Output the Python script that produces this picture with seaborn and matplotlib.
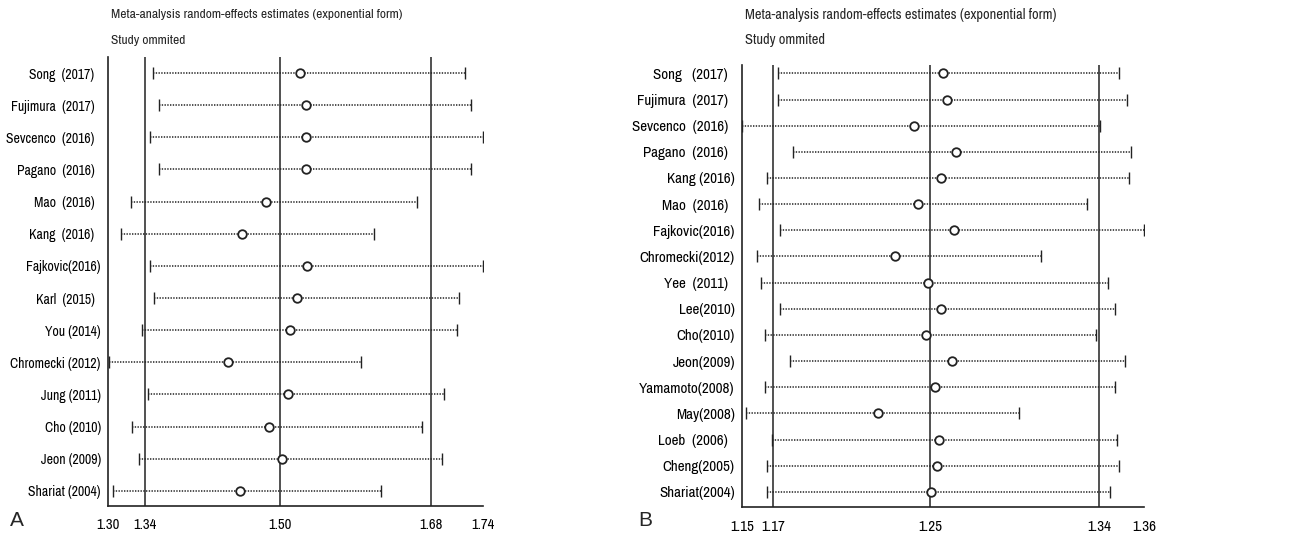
import matplotlib
matplotlib.use("Agg")
import matplotlib.pyplot as plt
from matplotlib import font_manager as fm
import seaborn as sns
import pandas as pd

# ---------------- Panel A data ----------------
studies_a = ["Song  (2017)  ", "Fujimura  (2017)  ", "Sevcenco  (2016)  ", "Pagano  (2016)  ",
             "Mao  (2016)  ", "Kang  (2016)  ", "Fajkovic(2016)", "Karl  (2015)  ",
             "You (2014)", "Chromecki (2012)", "Jung (2011)", "Cho (2010)",
             "Jeon (2009)", "Shariat (2004)"]
est_a = [1.525, 1.532, 1.532, 1.532, 1.485, 1.457, 1.533, 1.522, 1.514, 1.441, 1.511, 1.489, 1.504, 1.455]
lo_a = [1.353, 1.360, 1.349, 1.360, 1.327, 1.316, 1.349, 1.354, 1.340, 1.301, 1.347, 1.329, 1.337, 1.306]
hi_a = [1.718, 1.726, 1.740, 1.726, 1.662, 1.612, 1.740, 1.711, 1.709, 1.597, 1.694, 1.668, 1.692, 1.620]
refs_a = [1.344, 1.502, 1.679]
xlim_a = [1.30, 1.74]
xticks_a = [1.30, 1.344, 1.502, 1.679, 1.74]

# ---------------- Panel B data ----------------
studies_b = ["Song   (2017)  ", "Fujimura  (2017)  ", "Sevcenco  (2016)  ", "Pagano  (2016)  ",
             "Kang (2016)", "Mao  (2016)  ", "Fajkovic(2016)", "Chromecki(2012)",
             "Yee  (2011)  ", "Lee(2010)", "Cho(2010)", "Jeon(2009)", "Yamamoto(2008)",
             "May(2008)", "Loeb  (2006)  ", "Cheng(2005)", "Shariat(2004)"]
est_b = [1.255, 1.257, 1.240, 1.262, 1.254, 1.242, 1.261, 1.230, 1.247, 1.254, 1.246, 1.260,
         1.251, 1.221, 1.253, 1.252, 1.249]
lo_b = [1.169, 1.169, 1.150, 1.177, 1.163, 1.159, 1.170, 1.158, 1.160, 1.170, 1.162, 1.175,
        1.162, 1.152, 1.166, 1.163, 1.163]
hi_b = [1.347, 1.351, 1.337, 1.353, 1.352, 1.330, 1.360, 1.306, 1.341, 1.345, 1.335, 1.350,
        1.345, 1.295, 1.346, 1.347, 1.342]
refs_b = [1.1662, 1.2485, 1.3365]
xlim_b = [1.15, 1.36]
xticks_b = [1.15, 1.1662, 1.2485, 1.3365, 1.36]

title1 = "Meta-analysis random-effects estimates (exponential form)"
title2 = "Study ommited"

sns.set_style("white")

# look for a narrow / condensed sans face, fall back to Liberation Sans
NARROW_STRETCH = {"condensed", "semi-condensed", "extra-condensed", "ultra-condensed",
                  300, 400, 200, 100}
cands = []
for f in fm.fontManager.ttflist:
    nm = f.name
    low = (nm + " " + f.fname).lower()
    narrowish = ("narrow" in low or "condensed" in low or f.stretch in NARROW_STRETCH)
    if not narrowish or f.style != "normal" or f.weight not in (400, "normal", "regular"):
        continue
    if "cjk" in low or "mono" in low or "serif" in low.replace("sans", ""):
        continue
    if "semicondensed" in low or "semi-condensed" in low:
        rank = 3
    elif "extracondensed" in low or "extra" in low:
        rank = 4
    else:
        rank = 1
    if "narrow" in low:
        rank = 0
    cands.append((rank, nm, f.fname))
cands.sort()
if cands:
    BASE = dict(fname=cands[0][2])
    SCALE = 1.0
else:
    BASE = dict(family="Liberation Sans")
    SCALE = 0.82


def fp(size):
    return fm.FontProperties(size=size * SCALE, **BASE)


fig = plt.figure(figsize=(12.89, 5.38), dpi=100)
ax1 = fig.add_axes([0.08355, 0.05948, 0.29139, 0.83457])
ax2 = fig.add_axes([0.57541, 0.05762, 0.31210, 0.82156])

INK = "#222222"


def panel(ax, studies, est, lo, hi, refs, xlim, xticks, ylim, lab_size, tick_size):
    df = pd.DataFrame({"study": studies, "est": est, "lo": lo, "hi": hi})
    df["y"] = range(len(df))
    for r in refs:
        ax.axvline(r, color=INK, lw=1.1, zorder=1)
    eb = ax.errorbar(df["est"], df["y"], xerr=[df["est"] - df["lo"], df["hi"] - df["est"]],
                     fmt="none", ecolor=INK, elinewidth=1.1, capsize=4.5, capthick=1.0, zorder=2)
    eb.lines[2][0].set_linestyle((0, (0.9, 0.9)))
    sns.scatterplot(data=df, x="est", y="y", ax=ax, marker="o", s=38,
                    facecolor="white", edgecolor=INK, linewidth=1.3, zorder=3, legend=False)
    ax.set_xlim(xlim)
    ax.set_ylim(ylim)
    ax.set_xticks(xticks)
    ax.set_xticklabels([f"{t:.2f}" for t in xticks], fontproperties=fp(tick_size))
    ax.set_yticks(df["y"])
    ax.set_yticklabels(df["study"], fontproperties=fp(lab_size))
    ax.tick_params(axis="both", length=0, colors="black")
    ax.tick_params(axis="x", pad=9)
    ax.tick_params(axis="y", pad=5)
    ax.set_xlabel("")
    ax.set_ylabel("")
    for s in ["top", "right"]:
        ax.spines[s].set_visible(False)
    for s in ["left", "bottom"]:
        ax.spines[s].set_color(INK)
        ax.spines[s].set_linewidth(1.2)
    ax.grid(False)


panel(ax1, studies_a, est_a, lo_a, hi_a, refs_a, xlim_a, xticks_a, (13.47, -0.5), 9.9, 10.5)
panel(ax2, studies_b, est_b, lo_b, hi_b, refs_b, xlim_b, xticks_b, (16.58, -0.32), 10.8, 10.8)

for x0, sz in [(110.7 / 1289, 9.7), (745 / 1289, 10.4)]:
    fig.text(x0, (538 - 15) / 538, title1, fontproperties=fp(sz), va="center", ha="left")
    fig.text(x0, (538 - 40) / 538, title2, fontproperties=fp(sz), va="center", ha="left")

fig.text(17 / 1289, (538 - 521) / 538, "A", fontsize=15, va="center", ha="center",
         family=["Liberation Sans", "DejaVu Sans"])
fig.text(645 / 1289, (538 - 520) / 538, "B", fontsize=15, va="center", ha="center",
         family=["Liberation Sans", "DejaVu Sans"])

fig.savefig("out.png", dpi=100)
